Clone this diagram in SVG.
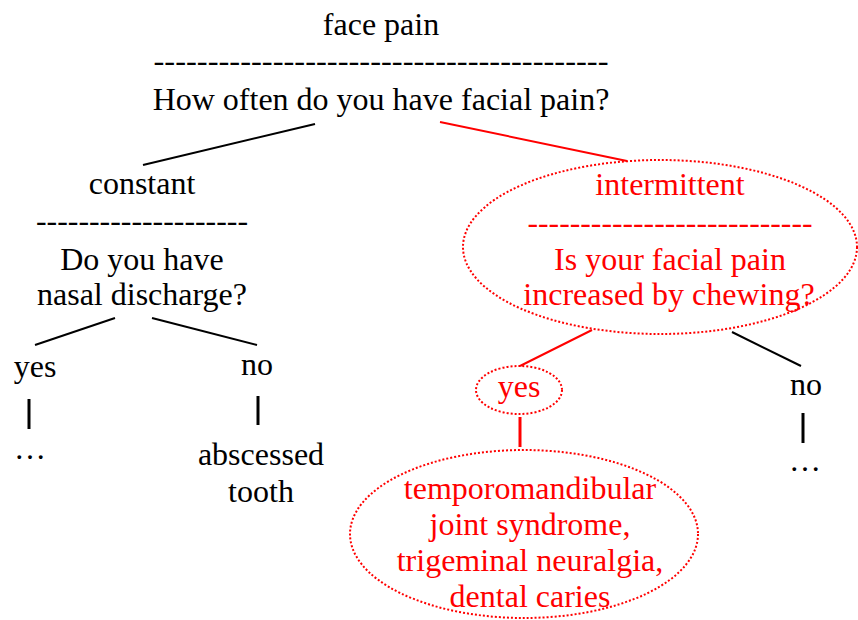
<svg xmlns="http://www.w3.org/2000/svg" width="858" height="620" viewBox="0 0 858 620">
<style>
text{font-family:"Liberation Serif","Times New Roman",serif;font-size:32px;text-anchor:middle}
.k{fill:#000}
.r{fill:#ff0000}
.lk{stroke:#000;stroke-width:2;fill:none}
.lr{stroke:#ff0000;stroke-width:2;fill:none}
.bar{stroke:#000;stroke-width:3}
.barr{stroke:#ff0000;stroke-width:3}
.dot{stroke:#ff0000;stroke-width:2;stroke-dasharray:2 2;fill:none}
</style>
<rect width="858" height="620" fill="#fff"/>
<g id="connectors">
<line class="lk" x1="315" y1="124" x2="143" y2="165"/>
<line class="lr" x1="440" y1="122" x2="627" y2="161"/>
<line class="lk" x1="115" y1="318" x2="35" y2="345"/>
<line class="lk" x1="152" y1="318" x2="257" y2="345"/>
<line class="bar" x1="29" y1="399" x2="29" y2="429"/>
<line class="bar" x1="258" y1="396" x2="258" y2="425"/>
<line class="lr" x1="592" y1="330" x2="520" y2="366"/>
<line class="lk" x1="732" y1="332" x2="801" y2="366"/>
<line class="bar" x1="803" y1="413" x2="803" y2="443"/>
<line class="barr" x1="520" y1="417" x2="520" y2="447"/>
</g>
<g id="root">
<text class="k" x="381" y="35">face pain</text>
<text class="k" x="381" y="71" textLength="455" lengthAdjust="spacingAndGlyphs">------------------------------------------</text>
<text class="k" x="381" y="110">How often do you have facial pain?</text>
</g>
<g id="constant">
<text class="k" x="142" y="194">constant</text>
<text class="k" x="142" y="231" textLength="212" lengthAdjust="spacingAndGlyphs">--------------------</text>
<text class="k" x="142" y="270">Do you have</text>
<text class="k" x="142" y="305">nasal discharge?</text>
</g>
<g id="c-yes"><text class="k" x="35" y="377">yes</text></g>
<g id="c-yes-more"><text class="k" x="30" y="459">…</text></g>
<g id="c-no"><text class="k" x="257" y="375">no</text></g>
<g id="abscessed">
<text class="k" x="261" y="465">abscessed</text>
<text class="k" x="261" y="502">tooth</text>
</g>
<g id="intermittent">
<ellipse class="dot" cx="660" cy="247" rx="197" ry="87"/>
<text class="r" x="670" y="195">intermittent</text>
<text class="r" x="670" y="233" textLength="285" lengthAdjust="spacingAndGlyphs">---------------------------</text>
<text class="r" x="670" y="270">Is your facial pain</text>
<text class="r" x="669" y="305">increased by chewing?</text>
</g>
<g id="i-yes">
<ellipse class="dot" cx="519" cy="390" rx="43" ry="24"/>
<text class="r" x="519" y="397">yes</text>
</g>
<g id="i-no"><text class="k" x="806" y="395">no</text></g>
<g id="i-no-more"><text class="k" x="805" y="471">…</text></g>
<g id="diagnosis">
<ellipse class="dot" cx="524" cy="534" rx="174" ry="84"/>
<text class="r" x="530" y="499">temporomandibular</text>
<text class="r" x="530" y="535">joint syndrome,</text>
<text class="r" x="530" y="571">trigeminal neuralgia,</text>
<text class="r" x="530" y="607">dental caries</text>
</g>
</svg>
